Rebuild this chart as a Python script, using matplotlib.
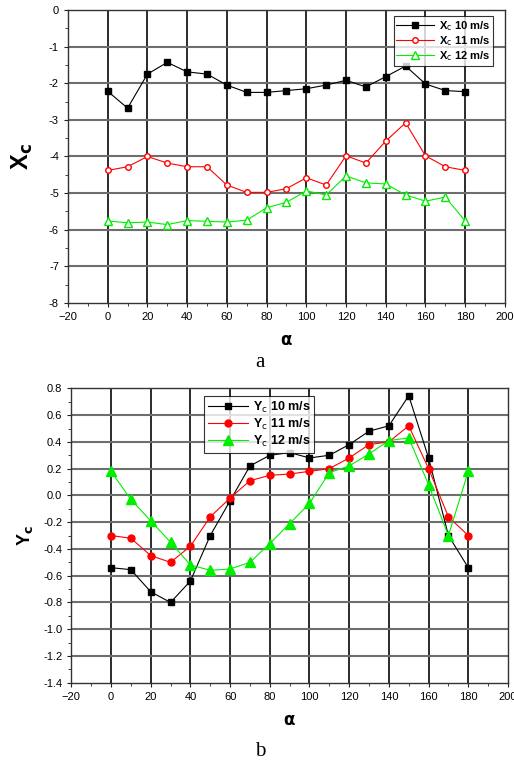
import numpy as np
import matplotlib
matplotlib.use('Agg')
import matplotlib.pyplot as plt
from matplotlib.ticker import MultipleLocator

plt.rcParams['font.family'] = ['Liberation Sans', 'DejaVu Sans']

alpha = list(range(0, 190, 10))

# top chart: Xc
xc_10 = [-2.22, -2.68, -1.75, -1.43, -1.69, -1.75, -2.05, -2.25, -2.25, -2.2,
         -2.15, -2.05, -1.92, -2.1, -1.82, -1.53, -2.02, -2.2, -2.23]
xc_11 = [-4.38, -4.28, -4.0, -4.18, -4.28, -4.28, -4.78, -4.98, -4.98, -4.88,
         -4.58, -4.78, -3.98, -4.18, -3.58, -3.08, -3.98, -4.28, -4.38]
xc_12 = [-5.76, -5.81, -5.79, -5.86, -5.75, -5.77, -5.79, -5.74, -5.4, -5.25,
         -4.94, -5.05, -4.53, -4.72, -4.75, -5.05, -5.22, -5.11, -5.76]

# bottom chart: Yc
yc_10 = [-0.54, -0.555, -0.72, -0.80, -0.64, -0.30, -0.04, 0.22, 0.30, 0.32,
         0.28, 0.30, 0.38, 0.48, 0.52, 0.745, 0.28, -0.30, -0.54]
yc_11 = [-0.30, -0.32, -0.45, -0.50, -0.38, -0.16, -0.02, 0.11, 0.15, 0.16,
         0.18, 0.20, 0.28, 0.38, 0.40, 0.52, 0.20, -0.16, -0.30]
yc_12 = [0.18, -0.03, -0.19, -0.35, -0.52, -0.56, -0.55, -0.50, -0.36, -0.21,
         -0.06, 0.17, 0.22, 0.31, 0.41, 0.43, 0.08, -0.30, 0.18]

fig = plt.figure(figsize=(5.14, 7.63), dpi=100)
ax1 = fig.add_axes([0.1323, 0.6029, 0.850, 0.384])
ax2 = fig.add_axes([0.1387, 0.1052, 0.8496, 0.3858])


def style_axes(ax, ymin, ymax, ymaj, ymin_step):
  ax.set_xlim(-20, 200)
  ax.set_ylim(ymin, ymax)
  ax.xaxis.set_major_locator(MultipleLocator(20))
  ax.xaxis.set_minor_locator(MultipleLocator(10))
  ax.yaxis.set_major_locator(MultipleLocator(ymaj))
  ax.yaxis.set_minor_locator(MultipleLocator(ymin_step))
  #grid lines: verticals dark, horizontals gray
  for xv in range(0, 200, 20):
    ax.axvline(xv, color='#1a1a1a', lw=1.3, zorder=1)
  for yv in np.arange(ymin + ymaj, ymax - ymaj / 2, ymaj):
    ax.axhline(yv, color='#6e6e6e', lw=1.5, zorder=1)
  ax.tick_params(which='both', direction='out', labelsize=8, color='#222222')
  ax.tick_params(which='major', length=3)
  ax.tick_params(which='minor', length=2)
  for s in ax.spines.values():
    s.set_color('#333333')
    s.set_linewidth(1.0)


style_axes(ax1, -8, 0, 1, 0.5)
ax1.yaxis.set_major_formatter(plt.FuncFormatter(lambda v, p: '%d' % v))

ax1.plot(alpha, xc_10, color='black', lw=0.8, marker='s', ms=4, label=r'X$_{\mathrm{c}}$ 10 m/s', zorder=3)
ax1.plot(alpha, xc_11, color='red', lw=0.8, marker='o', ms=4, mfc='white', mec='red', label=r'X$_{\mathrm{c}}$ 11 m/s', zorder=3)
ax1.plot(alpha, xc_12, color='#00ee00', lw=0.8, marker='^', ms=6, mfc='white', mec='#00ee00', label=r'X$_{\mathrm{c}}$ 12 m/s', zorder=3)
leg1 = ax1.legend(loc='upper right', bbox_to_anchor=(0.985, 0.997), frameon=True, fancybox=False,
                  edgecolor='black', handlelength=3.4, borderpad=0.25, labelspacing=0.1,
                  handletextpad=0.4, prop={'weight': 'bold', 'size': 8})
leg1.get_frame().set_linewidth(0.8)

ax1.set_ylabel(r'X$_\mathbf{c}$', fontsize=17, fontweight='bold', labelpad=10)
ax1.set_xlabel(r'$\mathbf{\alpha}$', fontsize=12, fontweight='bold', labelpad=8)

style_axes(ax2, -1.4, 0.8, 0.2, 0.1)
ax2.yaxis.set_major_formatter(plt.FuncFormatter(lambda v, p: '%.1f' % v))

ax2.plot(alpha, yc_10, color='black', lw=0.8, marker='s', ms=4, label=r'Y$_{\mathrm{c}}$ 10 m/s', zorder=3)
ax2.plot(alpha, yc_11, color='red', lw=0.8, marker='o', ms=5, label=r'Y$_{\mathrm{c}}$ 11 m/s', zorder=3)
ax2.plot(alpha, yc_12, color='#00ee00', lw=0.8, marker='^', ms=7, label=r'Y$_{\mathrm{c}}$ 12 m/s', zorder=3)
leg2 = ax2.legend(loc='upper left', bbox_to_anchor=(0.29, 0.995), frameon=True, fancybox=False,
                  edgecolor='black', handlelength=3.2, borderpad=0.3, labelspacing=0.15,
                  handletextpad=0.4, prop={'weight': 'bold', 'size': 9})
leg2.get_frame().set_linewidth(0.8)

ax2.set_ylabel(r'Y$_\mathbf{c}$', fontsize=13, fontweight='bold', labelpad=6)
ax2.set_xlabel(r'$\mathbf{\alpha}$', fontsize=12, fontweight='bold', labelpad=8)

fig.text(0.506, 0.525, 'a', fontsize=15, family='Liberation Serif', ha='center', va='center')
fig.text(0.506, 0.015, 'b', fontsize=15, family='Liberation Serif', ha='center', va='center')

plt.savefig('out.png', dpi=100)
